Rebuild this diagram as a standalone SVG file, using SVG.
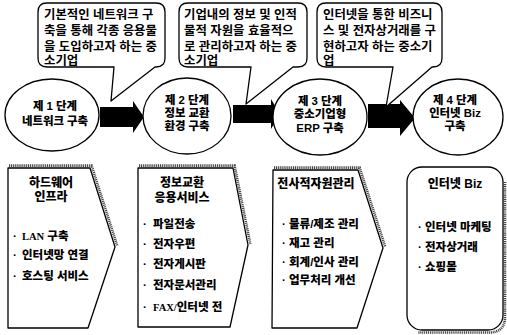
<svg xmlns="http://www.w3.org/2000/svg" width="507" height="335" viewBox="0 0 507 335">
<style>
.ln{fill:#fff;stroke:#000;stroke-width:1.3;stroke-linejoin:round}
.sh{fill:none;stroke:#444;stroke-width:2.6;stroke-dasharray:1.1 0.8}
.arr{fill:#000}
.bt{font-family:"Liberation Sans","Noto Sans CJK KR",sans-serif;font-size:12.4px;font-weight:700;fill:#000}
.ct{font-family:"Liberation Sans","Noto Sans CJK KR",sans-serif;font-size:11.4px;font-weight:900;fill:#000;text-anchor:middle}
.tt{font-family:"Liberation Sans","Noto Sans CJK KR",sans-serif;font-size:12px;font-weight:900;fill:#000;text-anchor:middle}
.it{font-family:"Liberation Sans","Noto Sans CJK KR",sans-serif;font-size:11.5px;font-weight:900;fill:#000}
.lat{font-family:"Liberation Serif",serif;font-weight:700;font-size:10.5px}
</style>
<rect width="507" height="335" fill="#fff"/>
<g id="connectors">
<polygon class="arr" points="100,107 133,107 133,101 144,117 133,133 133,127 100,127"/>
<polygon class="arr" points="233,105 271,105 271,99 280,114 271,129 271,123 233,123"/>
<polygon class="arr" points="368,104 400,104 400,100 415,118 400,136 400,128 368,128"/>
</g>
<g id="bubble1">
<path class="ln" d="M47,3 H156 Q165,3 165,12 V58 Q165,67 156,67 H155 L111,101 L114,67 H47 Q38,67 38,58 V12 Q38,3 47,3 Z"/>
<text class="bt" x="44" y="19">기본적인 네트워크 구</text>
<text class="bt" x="44" y="35">축을 통해 각종 응용물</text>
<text class="bt" x="44" y="50.5">을 도입하고자 하는 중</text>
<text class="bt" x="44" y="64.5">소기업</text>
</g>
<g id="bubble2">
<path class="ln" d="M188,3 H298 Q307,3 307,12 V58 Q307,67 298,67 H293 L246,104 L251,67 H188 Q179,67 179,58 V12 Q179,3 188,3 Z"/>
<text class="bt" x="184" y="19">기업내의 정보 및 인적</text>
<text class="bt" x="184" y="35">물적 자원을 효율적으</text>
<text class="bt" x="184" y="50.5">로 관리하고자 하는 중</text>
<text class="bt" x="184" y="64.5">소기업</text>
</g>
<g id="bubble3">
<path class="ln" d="M326,3 H433 Q442,3 442,12 V58 Q442,67 433,67 H432 L386,107 L393,67 H326 Q317,67 317,58 V12 Q317,3 326,3 Z"/>
<text class="bt" x="323" y="19">인터넷을 통한 비즈니</text>
<text class="bt" x="323" y="35">스 및 전자상거래를 구</text>
<text class="bt" x="323" y="50.5">현하고자 하는 중소기</text>
<text class="bt" x="323" y="64.5">업</text>
</g>
<g id="stage1">
<ellipse class="ln" cx="52" cy="115" rx="47" ry="36"/>
<text class="ct" x="55" y="110">제 1 단계</text>
<text class="ct" x="55" y="125">네트워크 구축</text>
</g>
<g id="stage2">
<ellipse class="ln" cx="187" cy="116" rx="44" ry="38"/>
<text class="ct" x="187" y="104">제 2 단계</text>
<text class="ct" x="187" y="117">정보 교환</text>
<text class="ct" x="187" y="130">환경 구축</text>
</g>
<g id="stage3">
<ellipse class="ln" cx="320" cy="117" rx="47" ry="38"/>
<text class="ct" x="320" y="104.5">제 3 단계</text>
<text class="ct" x="320" y="118">중소기업형</text>
<text class="ct" x="320" y="131.5">ERP 구축</text>
</g>
<g id="stage4">
<ellipse class="ln" cx="458" cy="117" rx="45" ry="38"/>
<text class="ct" x="455" y="104">제 4 단계</text>
<text class="ct" x="455" y="117">인터넷 Biz</text>
<text class="ct" x="455" y="130">구축</text>
</g>
<g id="card1">
<path class="sh" d="M9,165.6 H91.6 L117.3,246"/>
<polygon class="ln" points="8,168 90,168 115,247 88,328 8,328"/>
<text class="tt" x="51" y="186.5">하드웨어</text>
<text class="tt" x="51" y="201">인프라</text>
<text class="it" x="13" y="240">·<tspan class="lat" x="22">LAN</tspan> 구축</text>
<text class="it" x="13" y="259">·<tspan x="22">인터넷망 연결</tspan></text>
<text class="it" x="13" y="280">·<tspan x="22">호스팅 서비스</tspan></text>
</g>
<g id="card2">
<path class="sh" d="M139,165.6 H234.6 L250.3,244"/>
<polygon class="ln" points="138,168 233,168 248,245 230,327 138,327"/>
<text class="tt" x="182" y="186.5">정보교환</text>
<text class="tt" x="182" y="201.5">응용서비스</text>
<text class="it" x="143" y="227.5">·<tspan x="153">파일전송</tspan></text>
<text class="it" x="143" y="247.5">·<tspan x="153">전자우편</tspan></text>
<text class="it" x="143" y="267.5">·<tspan x="153">전자게시판</tspan></text>
<text class="it" x="143" y="289">·<tspan x="153">전자문서관리</tspan></text>
<text class="it" x="143" y="311">·<tspan class="lat" x="153">FAX/</tspan>인터넷 전</text>
</g>
<g id="card3">
<path class="sh" d="M274,167.6 H359.6 L385.3,247"/>
<polygon class="ln" points="273,170 358,170 383,248 357,328 272,328"/>
<text class="tt" x="316" y="187.5">전사적자원관리</text>
<text class="it" x="282" y="227.5">·<tspan x="289">물류/제조 관리</tspan></text>
<text class="it" x="282" y="246.5">·<tspan x="289">재고 관리</tspan></text>
<text class="it" x="282" y="265.5">·<tspan x="289">회계/인사 관리</tspan></text>
<text class="it" x="282" y="284">·<tspan x="289">업무처리 개선</tspan></text>
</g>
<g id="card4">
<path class="sh" d="M505,182 V317 Q505,332.5 489,332.5 H418"/>
<rect class="ln" x="407" y="167" width="96" height="163" rx="15"/>
<text class="tt" x="455" y="187.5">인터넷 Biz</text>
<text class="it" x="418" y="231">·<tspan x="425">인터넷 마케팅</tspan></text>
<text class="it" x="418" y="251">·<tspan x="425">전자상거래</tspan></text>
<text class="it" x="418" y="271">·<tspan x="425">쇼핑몰</tspan></text>
</g>
</svg>
